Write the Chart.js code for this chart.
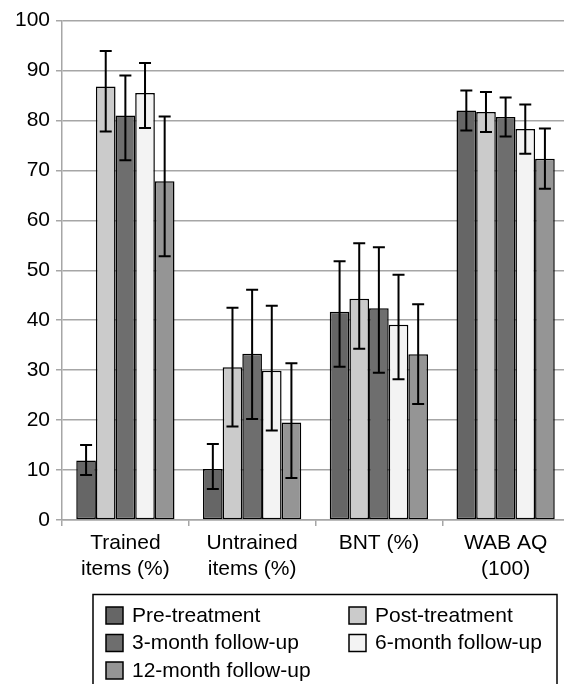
<!DOCTYPE html>
<html>
<head>
<meta charset="utf-8">
<script src="https://cdn.jsdelivr.net/npm/chart.js@4/dist/chart.umd.min.js"></script>
<style>
    html, body { margin: 0; padding: 0; overflow: hidden; background: #fff; }
    #wrap { width: 572px; height: 684px; }
</style>
</head>
<body>
<div id="wrap"><canvas id="myChart" width="572" height="684"></canvas></div>
<script>
const categories = [['Trained', 'items (%)'], ['Untrained', 'items (%)'], 'BNT (%)', ['WAB AQ', '(100)']];
const yTicks = [0, 10, 20, 30, 40, 50, 60, 70, 80, 90, 100];

const seriesNames = ['Pre-treatment', 'Post-treatment', '3-month follow-up', '6-month follow-up', '12-month follow-up'];
const seriesColors = ['#666666', '#cbcbcb', '#6e6e6e', '#f3f3f3', '#959595'];

// 평균값
const preTreatment = [11.9, 10.2, 41.7, 82.0];
const postTreatment = [86.8, 30.6, 44.3, 81.7];
const followUp3 = [81.0, 33.3, 42.4, 80.7];
const followUp6 = [85.5, 29.9, 39.1, 78.3];
const followUp12 = [67.8, 19.5, 33.2, 72.3];

// 오차 막대 (아래, 위)
const preLow = [9.0, 6.2, 30.7, 78.0];
const preHigh = [15.0, 15.2, 51.8, 86.0];
const postLow = [77.8, 18.7, 34.3, 77.7];
const postHigh = [93.9, 42.5, 55.4, 85.7];
const fu3Low = [72.0, 20.2, 29.5, 76.8];
const fu3High = [89.0, 46.1, 54.6, 84.6];
const fu6Low = [78.5, 17.9, 28.2, 73.3];
const fu6High = [91.5, 42.9, 49.1, 83.2];
const fu12Low = [52.8, 8.4, 23.2, 66.3];
const fu12High = [80.8, 31.4, 43.2, 78.4];

const seriesValues = [preTreatment, postTreatment, followUp3, followUp6, followUp12];
const errLow = [preLow, postLow, fu3Low, fu6Low, fu12Low];
const errHigh = [preHigh, postHigh, fu3High, fu6High, fu12High];

const FONT = "'Liberation Sans', Arial, sans-serif";
Chart.defaults.font.family = FONT;
Chart.defaults.color = '#000';

// 오차 막대 그리기
const errorBars = {
    id: 'errorBars',
    afterDatasetsDraw(chart) {
        const ctx = chart.ctx;
        const y = chart.scales.y;
        ctx.save();
        ctx.strokeStyle = '#000';
        ctx.lineWidth = 2;
        chart.data.datasets.forEach((ds, i) => {
            const meta = chart.getDatasetMeta(i);
            meta.data.forEach((bar, j) => {
                const lo = y.getPixelForValue(errLow[i][j]);
                const hi = y.getPixelForValue(errHigh[i][j]);
                const cap = 6;
                ctx.beginPath();
                ctx.moveTo(bar.x, lo);
                ctx.lineTo(bar.x, hi);
                ctx.moveTo(bar.x - cap, lo);
                ctx.lineTo(bar.x + cap, lo);
                ctx.moveTo(bar.x - cap, hi);
                ctx.lineTo(bar.x + cap, hi);
                ctx.stroke();
            });
        });
        ctx.restore();
    }
};

// 범례 상자
const boxLegend = {
    id: 'boxLegend',
    afterDraw(chart) {
        const ctx = chart.ctx;
        ctx.save();
        ctx.strokeStyle = '#000';
        ctx.lineWidth = 1.5;
        ctx.strokeRect(93, 594.5, 464, 120);
        ctx.font = '21px ' + FONT;
        ctx.textBaseline = 'middle';
        ctx.fillStyle = '#000';
        chart.data.datasets.forEach((ds, i) => {
            const col = i % 2;
            const row = Math.floor(i / 2);
            const x = col === 0 ? 106 : 349;
            const top = 607 + row * 27.5;
            ctx.fillStyle = ds.backgroundColor;
            ctx.fillRect(x, top, 17, 17);
            ctx.strokeRect(x, top, 17, 17);
            ctx.fillStyle = '#000';
            ctx.fillText(ds.label, x + 26, top + 9);
        });
        ctx.restore();
    }
};

const ctx = document.getElementById('myChart').getContext('2d');
const myChart = new Chart(ctx, {
    type: 'bar',
    data: {
        labels: categories,
        datasets: seriesNames.map((name, i) => ({
            label: name,
            data: seriesValues[i],
            backgroundColor: seriesColors[i],
            borderColor: '#000',
            borderWidth: 1.5,
            borderSkipped: false,
            categoryPercentage: 0.775,
            barPercentage: 1.0
        }))
    },
    options: {
        responsive: false,
        animation: false,
        layout: { padding: { top: 20.5, right: 3, left: 0, bottom: 0 } },
        plugins: {
            legend: { display: false },
            tooltip: { enabled: false }
        },
        scales: {
            x: {
                afterFit(scale) { scale.height = 164; },
                grid: {
                    offset: true,
                    drawOnChartArea: false,
                    tickLength: 6,
                    color: '#a6a6a6',
                    lineWidth: 1.5
                },
                border: { color: '#a6a6a6', width: 1.5 },
                ticks: {
                    font: { size: 21 },
                    padding: 5,
                    maxRotation: 0,
                    autoSkip: false
                }
            },
            y: {
                min: 0,
                max: 100,
                afterFit(scale) { scale.width = 62; },
                afterBuildTicks(scale) {
                    scale.ticks = yTicks.map(v => ({ value: v }));
                },
                grid: {
                    color: '#a6a6a6',
                    lineWidth: 1.5,
                    tickLength: 6
                },
                border: { color: '#a6a6a6', width: 1.5 },
                ticks: {
                    font: { size: 21 },
                    padding: 6
                }
            }
        }
    },
    plugins: [errorBars, boxLegend]
});
</script>
</body>
</html>
